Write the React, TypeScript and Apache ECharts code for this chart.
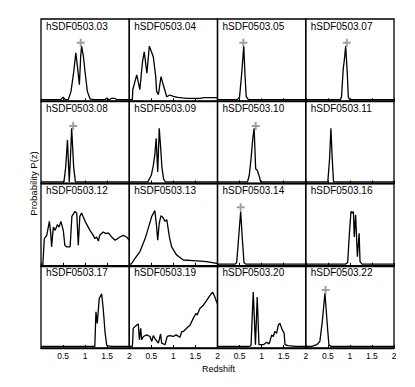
import React, { useEffect, useRef } from "react";
import * as echarts from "echarts";

// ---------- data ----------
const panelLabels = [
  "hSDF0503.03", "hSDF0503.04", "hSDF0503.05", "hSDF0503.07",
  "hSDF0503.08", "hSDF0503.09", "hSDF0503.10", "hSDF0503.11",
  "hSDF0503.12", "hSDF0503.13", "hSDF0503.14", "hSDF0503.16",
  "hSDF0503.17", "hSDF0503.19", "hSDF0503.20", "hSDF0503.22",
];

const z03 = [0, 0.40, 0.45, 0.50, 0.55, 0.62, 0.68, 0.74, 0.79, 0.83, 0.87, 0.90, 0.92, 0.96, 1.00, 1.05, 1.11, 1.20, 1.45, 1.50, 1.53, 1.56, 1.59, 1.68, 1.71, 2.0];
const p03 = [0.02, 0.02, 0.02, 0.05, 0.02, 0.02, 0.12, 0.35, 0.59, 0.40, 0.20, 0.55, 0.67, 0.55, 0.35, 0.12, 0.03, 0.02, 0.02, 0.04, 0.02, 0.02, 0.035, 0.035, 0.02, 0.02];

const z04 = [0, 0.07, 0.08, 0.12, 0.17, 0.24, 0.30, 0.34, 0.40, 0.455, 0.545, 0.60, 0.62, 0.66, 0.72, 0.77, 0.85, 0.92, 1.0, 1.1, 1.2, 1.3, 1.4, 1.5, 1.6, 1.7, 1.8, 1.9, 2.0];
const p04 = [0.02, 0.02, 0.14, 0.22, 0.32, 0.14, 0.48, 0.60, 0.34, 0.67, 0.54, 0.30, 0.12, 0.08, 0.30, 0.20, 0.055, 0.076, 0.06, 0.047, 0.04, 0.035, 0.035, 0.035, 0.035, 0.045, 0.045, 0.045, 0.04];

const z05 = [0, 0.45, 0.50, 0.55, 0.595, 0.625, 0.65, 0.70, 2.0];
const p05 = [0.02, 0.02, 0.05, 0.35, 0.67, 0.30, 0.06, 0.02, 0.02];

const z07 = [0, 0.78, 0.81, 0.85, 0.87, 0.905, 0.94, 0.965, 1.0, 2.0];
const p07 = [0.02, 0.02, 0.05, 0.40, 0.48, 0.67, 0.35, 0.05, 0.02, 0.02];

const z08 = [0, 0.52, 0.56, 0.60, 0.64, 0.67, 0.695, 0.74, 0.78, 2.0];
const p08 = [0.02, 0.02, 0.20, 0.53, 0.02, 0.35, 0.67, 0.20, 0.02, 0.02];

const z09 = [0, 0.42, 0.50, 0.545, 0.58, 0.61, 0.645, 0.68, 0.71, 0.74, 0.78, 0.82, 2.0];
const p09 = [0.02, 0.02, 0.10, 0.22, 0.35, 0.55, 0.14, 0.67, 0.45, 0.20, 0.05, 0.02, 0.02];

const z10 = [0, 0.68, 0.72, 0.76, 0.80, 0.83, 0.865, 0.90, 0.92, 0.95, 0.98, 2.0];
const p10 = [0.02, 0.02, 0.10, 0.30, 0.55, 0.67, 0.18, 0.16, 0.13, 0.08, 0.02, 0.02];

const z11 = [0, 0.50, 0.54, 0.57, 0.60, 0.63, 2.0];
const p11 = [0.02, 0.02, 0.30, 0.67, 0.30, 0.02, 0.02];

const z12 = [0, 0.04, 0.075, 0.13, 0.19, 0.22, 0.24, 0.28, 0.32, 0.37, 0.41, 0.45, 0.505, 0.54, 0.58, 0.66, 0.70, 0.77, 0.81, 0.845, 0.88, 0.92, 1.00, 1.11, 1.185, 1.22, 1.26, 1.30, 1.33, 1.41, 1.47, 1.525, 1.60, 1.68, 1.79, 1.865, 1.94, 2.0];
const p12 = [0.0, 0.0, 0.33, 0.37, 0.54, 0.40, 0.23, 0.47, 0.43, 0.50, 0.47, 0.54, 0.43, 0.25, 0.23, 0.23, 0.60, 0.66, 0.64, 0.25, 0.60, 0.64, 0.54, 0.43, 0.37, 0.33, 0.35, 0.30, 0.37, 0.41, 0.39, 0.40, 0.35, 0.31, 0.35, 0.37, 0.35, 0.31];

const z13 = [0, 0.04, 0.055, 0.13, 0.24, 0.36, 0.43, 0.51, 0.58, 0.62, 0.645, 0.68, 0.72, 0.77, 0.81, 0.85, 0.91, 0.96, 1.075, 1.225, 1.53, 1.755, 1.98, 2.0];
const p13 = [0.02, 0.02, 0.03, 0.09, 0.17, 0.33, 0.455, 0.60, 0.67, 0.475, 0.31, 0.52, 0.61, 0.58, 0.54, 0.56, 0.35, 0.23, 0.13, 0.07, 0.06, 0.05, 0.03, 0.03];

const z14 = [0, 0.40, 0.435, 0.48, 0.525, 0.56, 0.60, 0.64, 2.0];
const p14 = [0.02, 0.02, 0.04, 0.35, 0.66, 0.35, 0.04, 0.02, 0.02];

const z16 = [0, 0.90, 0.95, 0.99, 1.025, 1.055, 1.08, 1.10, 1.13, 1.17, 1.21, 1.23, 1.275, 2.0];
const p16 = [0.02, 0.02, 0.04, 0.40, 0.66, 0.64, 0.66, 0.35, 0.62, 0.11, 0.395, 0.05, 0.02, 0.02];

const z17 = [0, 1.18, 1.22, 1.245, 1.275, 1.32, 1.375, 1.41, 1.45, 1.49, 1.6, 2.0];
const p17 = [0.02, 0.02, 0.02, 0.44, 0.30, 0.60, 0.66, 0.48, 0.20, 0.03, 0.02, 0.02];

const z19 = [0, 0.07, 0.08, 0.09, 0.13, 0.17, 0.205, 0.23, 0.26, 0.28, 0.32, 0.395, 0.47, 0.51, 0.545, 0.60, 0.66, 0.71, 0.735, 0.81, 0.86, 0.92, 1.00, 1.06, 1.15, 1.19, 1.225, 1.30, 1.38, 1.45, 1.51, 1.54, 1.60, 1.68, 1.755, 1.83, 1.89, 1.94, 1.98, 2.0];
const p19 = [0.02, 0.02, 0.10, 0.24, 0.26, 0.28, 0.29, 0.10, 0.24, 0.10, 0.14, 0.16, 0.14, 0.08, 0.15, 0.10, 0.06, 0.17, 0.06, 0.04, 0.14, 0.15, 0.14, 0.16, 0.13, 0.20, 0.20, 0.24, 0.28, 0.36, 0.42, 0.40, 0.48, 0.52, 0.58, 0.64, 0.68, 0.62, 0.56, 0.54];

const z20 = [0, 0.72, 0.76, 0.81, 0.86, 0.90, 0.94, 1.04, 1.115, 1.17, 1.23, 1.265, 1.30, 1.34, 1.38, 1.415, 1.44, 1.47, 1.51, 1.53, 1.60, 1.76, 1.98, 2.0];
const p20 = [0.02, 0.02, 0.03, 0.68, 0.04, 0.62, 0.04, 0.04, 0.07, 0.05, 0.16, 0.14, 0.20, 0.18, 0.28, 0.30, 0.26, 0.22, 0.18, 0.04, 0.03, 0.02, 0.02, 0.02];

const z22 = [0, 0.10, 0.135, 0.25, 0.32, 0.375, 0.435, 0.50, 0.525, 0.57, 0.62, 2.0];
const p22 = [0.02, 0.02, 0.02, 0.04, 0.08, 0.32, 0.665, 0.20, 0.04, 0.02, 0.02, 0.02];

const curveZ = [z03, z04, z05, z07, z08, z09, z10, z11, z12, z13, z14, z16, z17, z19, z20, z22];
const curveP = [p03, p04, p05, p07, p08, p09, p10, p11, p12, p13, p14, p16, p17, p19, p20, p22];

// best-fit redshift markers (grey crosses); null = none
const bestZ = [0.90, null, 0.585, 0.93, 0.73, null, 0.865, null, null, null, 0.525, null, null, null, null, 0.45];
const bestP = [0.71, null, 0.71, 0.71, 0.70, null, 0.70, null, null, null, 0.71, null, null, null, null, 0.705];

const xMin = 0;
const xMax = 2;
const xStep = 0.5;

// ---------- layout ----------
const LEFT = 41;
const TOP = 19;
const CELL_W = 88.25;
const CELL_H = 82.25;
const NCOL = 4;
const FONT = '"Liberation Sans", Arial, Helvetica, sans-serif';
const PLUS = "path://M3,0H5V3H8V5H5V8H3V5H0V3H3Z";

export default function App() {
  const ref = useRef<HTMLDivElement>(null);

  useEffect(() => {
    if (!ref.current) return;
    const chart = echarts.init(ref.current, undefined, { renderer: "svg" });
    const n = panelLabels.length;
    const nRows = Math.ceil(n / NCOL);

    const grids: any[] = [];
    const xAxes: any[] = [];
    const yAxes: any[] = [];
    const series: any[] = [];
    const titles: any[] = [];

    for (let i = 0; i < n; i++) {
      const r = Math.floor(i / NCOL);
      const c = i % NCOL;
      const left = LEFT + c * CELL_W;
      const top = TOP + r * CELL_H;
      grids.push({
        left, top, width: CELL_W, height: CELL_H,
        show: true, borderColor: "#000", borderWidth: 1.3,
        backgroundColor: "transparent", containLabel: false,
        outerBoundsMode: "none",
      });
      xAxes.push({
        type: "value", gridIndex: i, min: xMin, max: xMax, interval: xStep,
        axisLine: { show: true, lineStyle: { color: "#000", width: 1.3 } },
        axisTick: { show: true, inside: true, length: 3, lineStyle: { color: "#000", width: 1 } },
        axisLabel: {
          show: r === nRows - 1, showMinLabel: false, showMaxLabel: true,
          fontSize: 8.5, color: "#000", margin: 3, fontFamily: FONT,
          formatter: (v: number) => String(v),
        },
        splitLine: { show: false },
      });
      yAxes.push({
        type: "value", gridIndex: i, min: 0, max: 1, show: false,
        splitLine: { show: false },
      });
      series.push({
        type: "line", xAxisIndex: i, yAxisIndex: i,
        data: curveZ[i].map((z, k) => [z, curveP[i][k]]),
        showSymbol: false, symbol: "none", silent: true, clip: true,
        lineStyle: { color: "#000", width: 1.3 },
      });
      if (bestZ[i] !== null) {
        series.push({
          type: "scatter", xAxisIndex: i, yAxisIndex: i,
          data: [[bestZ[i], bestP[i]]],
          symbol: PLUS, symbolSize: 8, silent: true,
          itemStyle: { color: "#8a8a8a" }, z: 3,
        });
      }
      titles.push({
        text: panelLabels[i], left: left + 5, top: top + 2, padding: 0,
        textStyle: { fontSize: 10, fontWeight: "normal", color: "#000", fontFamily: FONT },
      });
    }

    chart.setOption({
      animation: false,
      backgroundColor: "#fff",
      title: titles,
      grid: grids,
      xAxis: xAxes,
      yAxis: yAxes,
      series,
      graphic: [
        {
          type: "text", x: LEFT + (CELL_W * NCOL) / 2 + 1, y: 369,
          style: {
            text: "Redshift", fill: "#000", font: `9px ${FONT}`,
            align: "center", verticalAlign: "middle",
            textAlign: "center", textVerticalAlign: "middle",
          },
        },
        {
          type: "text", x: 33, y: TOP + (CELL_H * nRows) / 2, rotation: Math.PI / 2,
          style: {
            text: "Probability P(z)", fill: "#000", font: `9.5px ${FONT}`,
            align: "center", verticalAlign: "middle",
            textAlign: "center", textVerticalAlign: "middle",
          },
        },
      ],
    });

    return () => chart.dispose();
  }, []);

  return (
    <div
      ref={ref}
      style={{ position: "absolute", left: 0, top: 0, width: 415, height: 387 }}
    />
  );
}
